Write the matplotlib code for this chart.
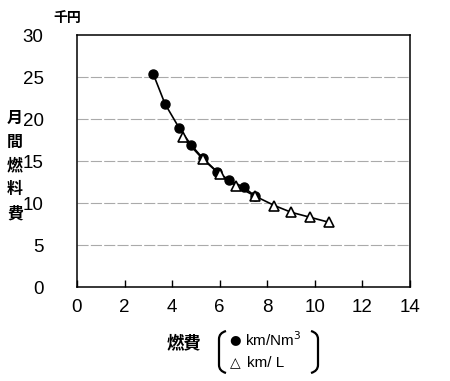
import matplotlib.pyplot as plt
from matplotlib.path import Path
from matplotlib.patches import PathPatch

plt.rcParams['font.family'] = ['Liberation Sans', 'Noto Sans CJK JP', 'DejaVu Sans']

# 燃費 km/Nm3 (●)
gas_x = [3.2, 3.7, 4.3, 4.8, 5.3, 5.9, 6.4, 7.0, 7.5]
gas_y = [25.4, 21.8, 18.9, 16.9, 15.3, 13.7, 12.7, 11.9, 10.8]
# 燃費 km/L (△)
liq_x = [4.45, 5.3, 6.0, 6.7, 7.5, 8.3, 9.0, 9.8, 10.6]
liq_y = [17.8, 15.2, 13.4, 12.0, 10.8, 9.7, 8.9, 8.3, 7.7]

xticks = [0, 2, 4, 6, 8, 10, 12, 14]
yticks = [0, 5, 10, 15, 20, 25, 30]
ylabel_chars = ['月', '間', '燃', '料', '費']

W, H = 450, 381
fig = plt.figure(figsize=(4.5, 3.81), dpi=100)
ax = fig.add_axes([77 / W, 1 - 287 / H, (410 - 77) / W, (287 - 35) / H])

ax.plot(gas_x, gas_y, color='black', lw=1.2, marker='o', ms=6.5,
        mfc='black', mec='black', zorder=3)
ax.plot(liq_x, liq_y, color='black', lw=1.2, marker='^', ms=7.5,
        mfc='white', mec='black', mew=1.2, zorder=4)

ax.set_xlim(0, 14)
ax.set_ylim(0, 30)
ax.set_xticks(xticks)
ax.set_yticks(yticks)
ax.tick_params(axis='x', direction='in', length=5, width=1, pad=9, labelsize=13.5)
ax.tick_params(axis='y', length=0, pad=24, labelsize=13.5)
for s in ax.spines.values():
    s.set_linewidth(1.1)
for v in yticks[1:-1]:
    ax.axhline(v, color='#aaaaaa', lw=0.8, ls=(0, (10, 2)), zorder=1)


def px(x, y):
    return x / W, 1 - y / H


cjk = ['Noto Sans CJK JP', 'DejaVu Sans']
fig.text(*px(67, 18), '千円', family=cjk, fontsize=10, fontweight='bold',
         ha='center', va='center')
for i, ch in enumerate(ylabel_chars):
    fig.text(*px(15, 118 + i * 23.8), ch, family=cjk, fontsize=11.5,
             fontweight='bold', ha='center', va='center')
fig.text(*px(184, 343), '燃費', family=cjk, fontsize=12.5, fontweight='bold',
         ha='center', va='center')

# brackets
def bracket(x_out, x_in, y0, y1):
    verts = [px(x_in, y0), px(x_out, y0 + 2), px(x_out, y0 + 8),
             px(x_out, y1 - 8), px(x_out, y1 - 2), px(x_in, y1)]
    codes = [Path.MOVETO, Path.CURVE3, Path.CURVE3,
             Path.LINETO, Path.CURVE3, Path.CURVE3]
    fig.patches.append(PathPatch(Path(verts, codes), fill=False, lw=1.6,
                                 ec='black', transform=fig.transFigure))

bracket(219, 226, 331, 373)
bracket(318, 311, 331, 373)

fig.text(*px(235, 340), '●', family=['DejaVu Sans'], fontsize=9.5,
         ha='center', va='center')
fig.text(*px(245, 340), 'km/Nm$^3$', fontsize=11, ha='left', va='center')
fig.text(*px(235, 363), '△', family=['DejaVu Sans'], fontsize=10,
         ha='center', va='center', fontweight='bold')
fig.text(*px(247, 363), 'km/ L', fontsize=11, ha='left', va='center')

fig.savefig('out.png', dpi=100)
